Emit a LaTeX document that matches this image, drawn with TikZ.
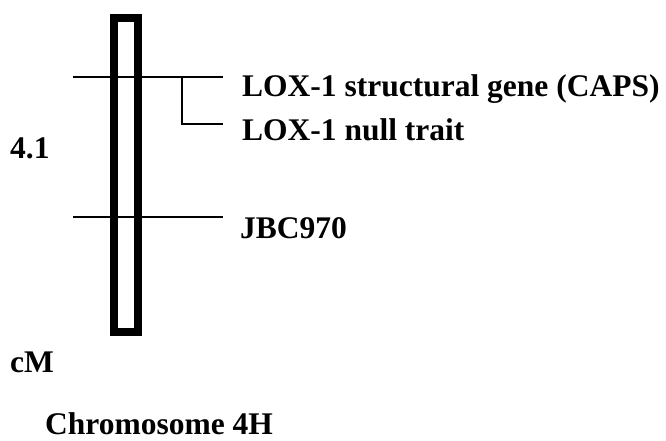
\documentclass[tikz,border=0pt]{standalone}
\usepackage{fontspec}
\setmainfont{Liberation Serif}
\usetikzlibrary{positioning, calc}
\tikzset{chrom/.style={draw, line width=8pt, minimum width=24pt, minimum height=314pt, inner sep=0pt}}
\tikzset{marker/.style={line width=2pt}}
\tikzset{lbl/.style={anchor=base west, inner sep=0pt, font=\fontsize{31.5}{36}\selectfont\bfseries}}

\begin{document}
\begin{tikzpicture}[x=1pt,y=1pt]

      \useasboundingbox (0,0) rectangle (666,441);

      % MARKER ENDS

      \coordinate (lox)  at (73,364);
      \coordinate (loxE) at (223,364);
      \coordinate (jbc)  at (73,224);
      \coordinate (jbcE) at (223,224);
      \coordinate (nul)  at (182,364);
      \coordinate (nulE) at (223,317);

      % LINES
      \draw[marker] (lox) -- (loxE);
      \draw[marker] (jbc) -- (jbcE);
      \draw[marker] (nul) |- (nulE);

      % CHROMOSOME

      \node[chrom] (chr) at (126,266) {};

      % LABELS

      \node[lbl] (loxLabel) at ($(loxE)+(19,-20)$) {LOX-1 structural gene (CAPS)};
      \node[lbl] (nulLabel) at ($(nulE)+(19,-17)$) {LOX-1 null trait};
      \node[lbl] (jbcLabel) at ($(jbcE)+(17,-22)$) {JBC970};
      \node[lbl] (distLabel) at (10,282) {4.1};
      \node[lbl] (unitLabel) at (10,68) {cM};
      \node[lbl] (chrLabel) at (45,6) {Chromosome 4H};

    \end{tikzpicture}
\end{document}
